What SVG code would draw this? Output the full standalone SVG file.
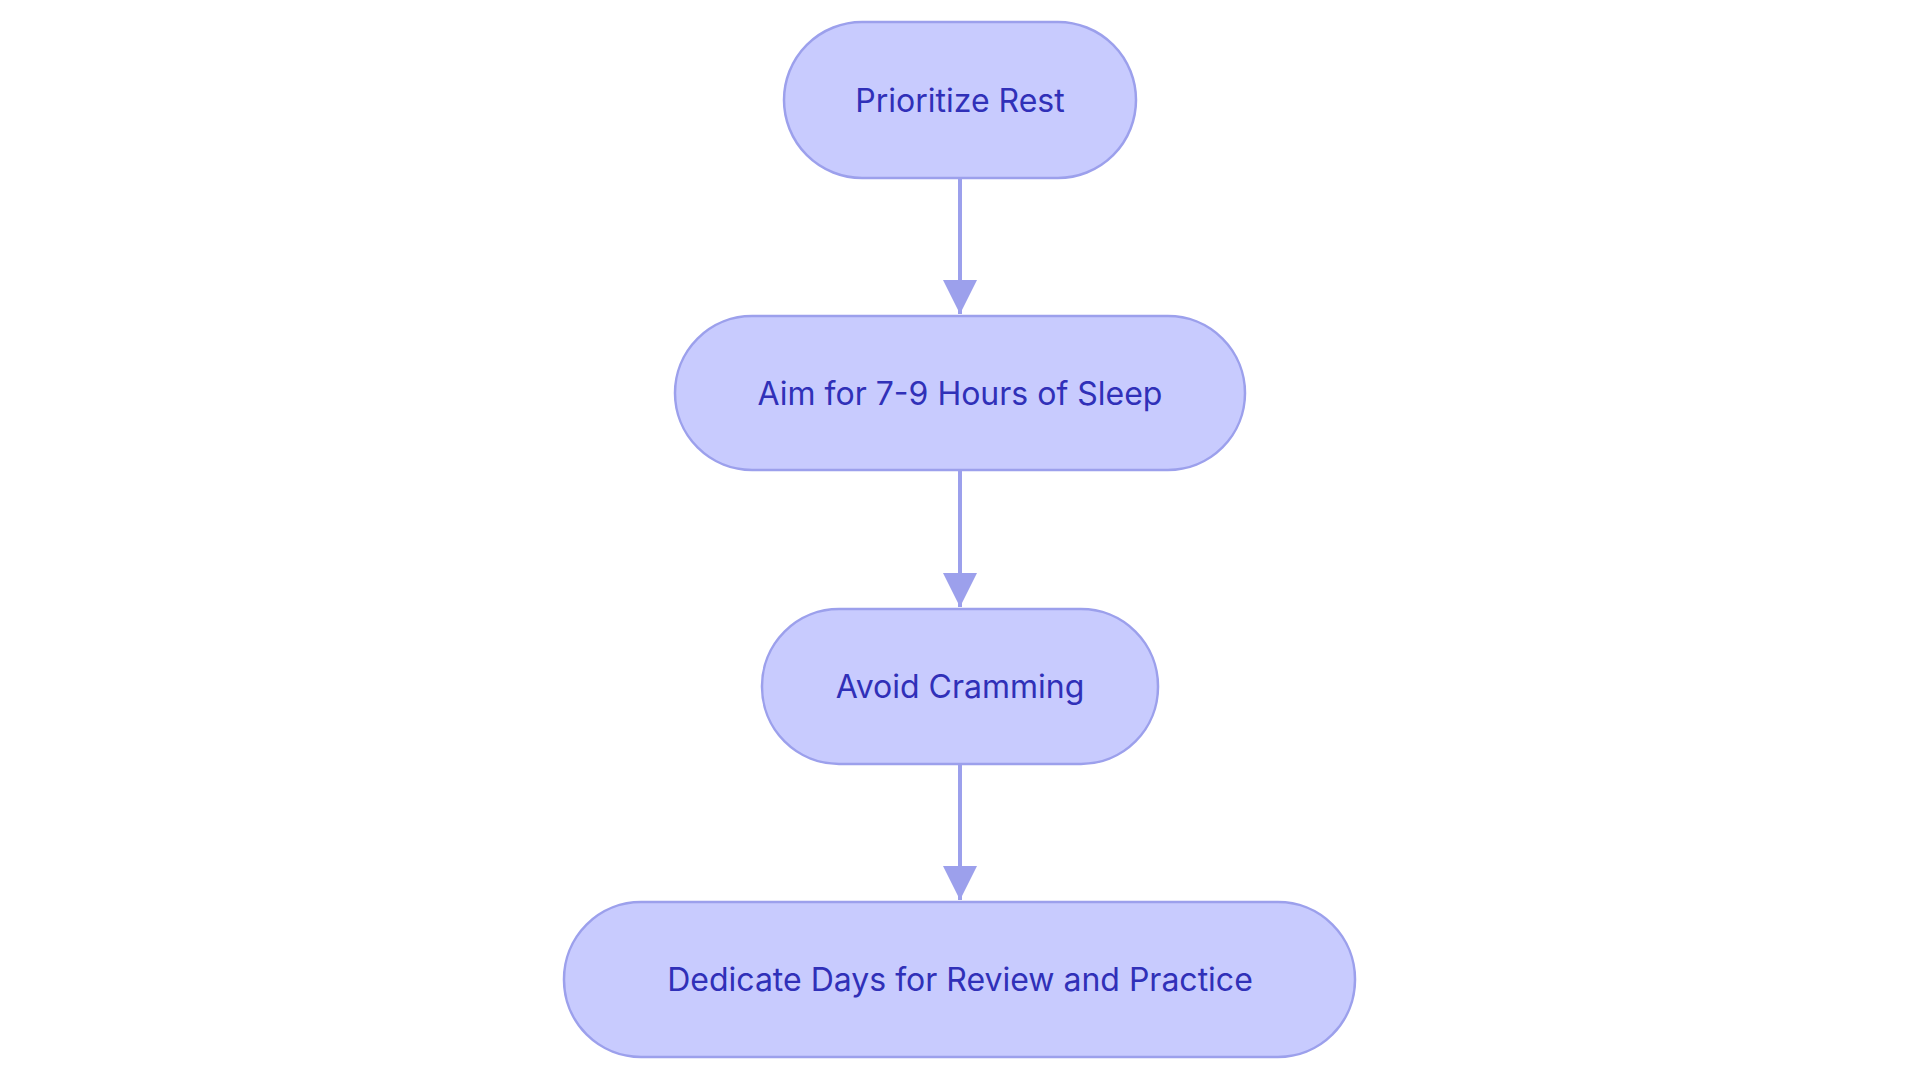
<svg xmlns="http://www.w3.org/2000/svg" width="1920" height="1083" viewBox="0 0 1920 1083">
<style>
.n{fill:#c8cbfe;stroke:#9ca0ec;stroke-width:2.5}
.t{font-family:Inter,"Noto Sans",sans-serif;font-size:32px;fill:#3030b8;text-anchor:middle;dominant-baseline:central}
.e{stroke:#9ca0ec;stroke-width:4;fill:none}
</style>
<defs><marker id="a" markerWidth="10" markerHeight="10" refX="10" refY="5" orient="auto" markerUnits="userSpaceOnUse" viewBox="0 0 10 10"><path d="M0,0L10,5L0,10z" fill="#9ca0ec"/></marker>
<marker id="m" viewBox="0 0 10 10" refX="10" refY="5" markerWidth="34" markerHeight="34" orient="auto" markerUnits="userSpaceOnUse"><path d="M0,0L10,5L0,10z" fill="#9ca0ec"/></marker></defs>
<rect width="1920" height="1083" fill="#fff"/>
<g id="edges">
<path class="e" d="M960,178V314" marker-end="url(#m)"/>
<path class="e" d="M960,470V607" marker-end="url(#m)"/>
<path class="e" d="M960,764V900" marker-end="url(#m)"/>
</g>
<g id="n1"><rect class="n" x="784" y="22" width="352" height="156" rx="78"/><text class="t" x="960" y="100">Prioritize Rest</text></g>
<g id="n2"><rect class="n" x="675" y="316" width="570" height="154" rx="77"/><text class="t" x="960" y="393">Aim for 7-9 Hours of Sleep</text></g>
<g id="n3"><rect class="n" x="762" y="609" width="396" height="155" rx="77"/><text class="t" x="960" y="686">Avoid Cramming</text></g>
<g id="n4"><rect class="n" x="564" y="902" width="791" height="155" rx="77"/><text class="t" x="960" y="979">Dedicate Days for Review and Practice</text></g>
</svg>
